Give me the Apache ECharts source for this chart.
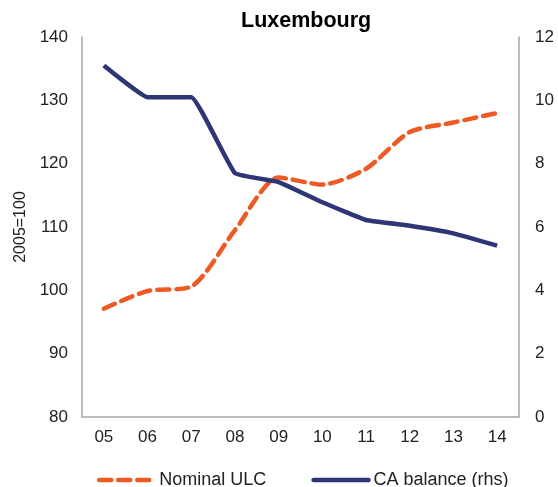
<!DOCTYPE html>
<html>
<head>
<meta charset="utf-8">
<script src="https://cdn.jsdelivr.net/npm/echarts@6/dist/echarts.min.js"></script>
<style>
  html, body { margin: 0; padding: 0; background: #fff; }
  #chart { width: 558px; height: 487px; }
</style>
</head>
<body>
<div id="chart"></div>
<script>
// years on the x axis
var years = ['05', '06', '07', '08', '09', '10', '11', '12', '13', '14'];
// left axis, 2005=100
var nominalULC = [97.1, 99.9, 100.6, 109.5, 117.8, 116.7, 119.2, 125.0, 126.5, 128.0];
// right axis
var caBalance = [11.1, 10.1, 10.1, 7.7, 7.42, 6.78, 6.22, 6.04, 5.8, 5.41];

var orange = '#EE5A24';
var navy = '#2F3675';
var font = 'Liberation Sans, Arial, sans-serif';

var chart = echarts.init(document.getElementById('chart'));

chart.setOption({
    animation: false,
    title: {
        text: 'Luxembourg',
        left: 236,
        top: 5,
        textStyle: { fontFamily: font, fontSize: 21.5, fontWeight: 'bold', color: '#000' }
    },
    legend: {
        left: 92,
        top: 466,
        itemWidth: 55,
        itemHeight: 12,
        itemGap: 45,
        itemStyle: { opacity: 0 },
        lineStyle: { width: 4.5, cap: 'round' },
        textStyle: { fontFamily: font, fontSize: 18, color: '#222' },
        data: ['Nominal ULC', 'CA balance (rhs)']
    },
    grid: { left: 82, right: 39, top: 37, bottom: 70 },
    xAxis: {
        type: 'category',
        data: years,
        boundaryGap: true,
        axisLine: { lineStyle: { color: '#a6a6a6', width: 1.5 } },
        axisTick: { show: false },
        axisLabel: { fontFamily: font, fontSize: 17, color: '#222', margin: 12 }
    },
    yAxis: [{
        type: 'value',
        min: 80, max: 140, interval: 10,
        name: '2005=100',
        nameLocation: 'middle',
        nameGap: 52,
        nameTextStyle: { fontFamily: font, fontSize: 16, color: '#222' },
        axisLine: { show: true, lineStyle: { color: '#a6a6a6', width: 1.5 } },
        axisTick: { show: false },
        splitLine: { show: false },
        axisLabel: { fontFamily: font, fontSize: 17, color: '#222', margin: 14 }
    }, {
        type: 'value',
        min: 0, max: 12, interval: 2,
        position: 'right',
        axisLine: { show: true, lineStyle: { color: '#a6a6a6', width: 1.5 } },
        axisTick: { show: false },
        splitLine: { show: false },
        axisLabel: { fontFamily: font, fontSize: 17, color: '#222', margin: 16 }
    }],
    series: [{
        name: 'Nominal ULC',
        type: 'line',
        yAxisIndex: 0,
        data: nominalULC,
        symbol: 'none',
        smooth: 0.25,
        itemStyle: { color: orange },
        lineStyle: { color: orange, width: 4.5, type: [12, 7], cap: 'round' }
    }, {
        name: 'CA balance (rhs)',
        type: 'line',
        yAxisIndex: 1,
        data: caBalance,
        symbol: 'none',
        smooth: 0.1,
        itemStyle: { color: navy },
        lineStyle: { color: navy, width: 4.5 }
    }]
});
</script>
</body>
</html>
